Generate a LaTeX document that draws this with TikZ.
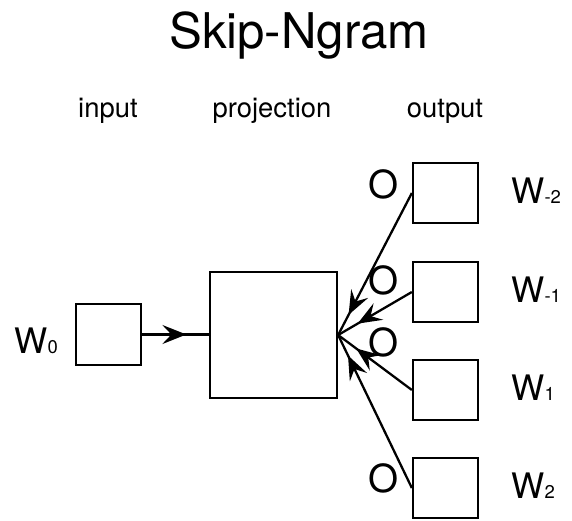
\documentclass[tikz,border=0pt]{standalone}
\usepackage{fontspec}
\setmainfont{TeX Gyre Heros}
\usetikzlibrary{arrows.meta,decorations.markings}

\tikzset{
  box/.style={draw,line width=1.3pt,inner sep=0pt,minimum width=1.3cm,minimum height=1.2cm},
  lab/.style={inner sep=0pt,font=\fontsize{15.6}{18}\selectfont},
  wlab/.style={inner sep=0pt,anchor=base west,font=\fontsize{20}{24}\selectfont},
  olab/.style={inner sep=0pt,font=\fontsize{22}{26}\selectfont},
  flow/.style={line width=1.3pt,postaction={decorate},
    decoration={markings,mark=at position -0.45cm with
      {\arrow{Stealth[length=0.48cm,width=0.38cm,inset=0.18cm]}}}}
}
\newcommand{\wsub}[1]{W{\fontsize{10.5}{12}\selectfont #1}}

\begin{document}
\begin{tikzpicture}[x=0.02cm,y=-0.02cm]
  \useasboundingbox (0,0) rectangle (572,521);
  \node[inner sep=0pt,anchor=base,font=\fontsize{28}{33}\selectfont] (title) at (299,48) {Skip-Ngram};
  \node[lab,anchor=base] (inlab) at (108,117) {input};
  \node[lab,anchor=base] (projlab) at (272,117) {projection};
  \node[lab,anchor=base] (outlab) at (445,117) {output};
  % input and projection
  \node[box,minimum height=1.22cm] (in) at (108.5,334.5) {};
  \node[wlab] (w0) at (14,353) {\wsub{0}};
  \node[box,minimum width=2.54cm,minimum height=2.52cm] (proj) at (273.5,335) {};
  \draw[flow] (in.east) -- (in.east -| proj.west);
  % output words
  \foreach \name/\y/\oy/\sub in {om2/193/184/-2, om1/292/280/-1, op1/390/342/1, op2/488/478/2} {
    \node[box] (\name) at (445.5,\y) {};
    \node[wlab] (w\name) at (511,\y+10) {\wsub{\sub}};
    \node[olab] (o\name) at (384,\oy) {O};
    \draw[flow] (\name.west) -- (proj.east);
  }
\end{tikzpicture}
\end{document}
